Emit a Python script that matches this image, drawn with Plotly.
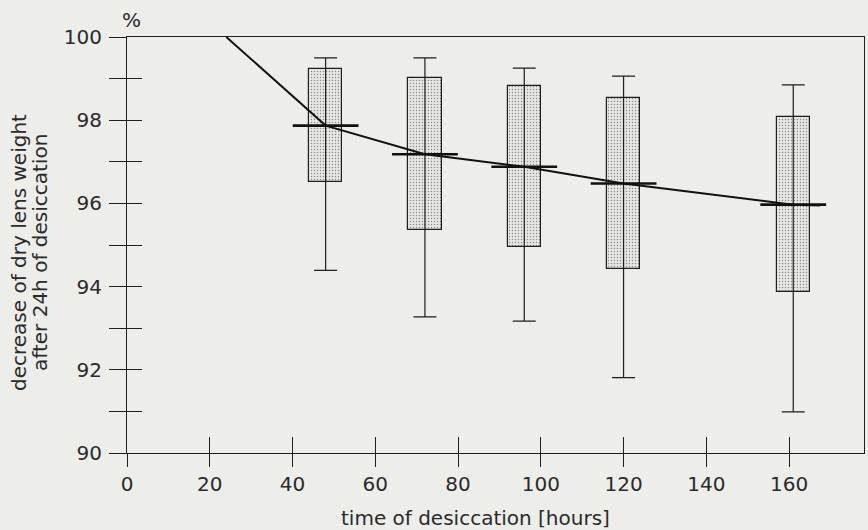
import plotly.graph_objects as go

# ---- data ----
times = [48, 72, 96, 120, 161]
whisker_max = [99.50, 99.50, 99.25, 99.06, 98.85]
q3 = [99.24, 99.01, 98.82, 98.53, 98.08]
median = [97.87, 97.18, 96.88, 96.48, 95.97]
q1 = [96.51, 95.37, 94.95, 94.42, 93.86]
whisker_min = [94.39, 93.27, 93.17, 91.81, 90.99]

curve_x = [24, 48, 72, 96, 120, 161, 167.5]
curve_y = [100.0, 97.87, 97.18, 96.88, 96.48, 95.97, 95.95]

x_ticks = [0, 20, 40, 60, 80, 100, 120, 140, 160]
y_ticks = [90, 91, 92, 93, 94, 95, 96, 97, 98, 99, 100]
y_ticktext = ["90", "", "92", "", "94", "", "96", "", "98", "", "100"]

x_title = "time of desiccation [hours]"
y_title_1 = "decrease of dry lens weight"
y_title_2 = "after 24h of desiccation"
unit_label = "%"

# ---- styling ----
BG = "#ededea"
INK = "#1e1e1e"
TXT = "#2a2a2a"
FONT = "DejaVu Sans"
W, H = 868, 530
ML, MR, MT, MB = 127, 4, 37, 77
PW, PH = W - ML - MR, H - MT - MB
XR = [0, 178.1]
YR = [90, 100]


def px_x(px):
    return (px - ML) / PW


def px_y(py):
    return 1 - (py - MT) / PH


fig = go.Figure()

# boxes (q1..q3) with stippled fill
fig.add_trace(go.Bar(
    x=times,
    y=[a - b for a, b in zip(q3, q1)],
    base=q1,
    width=8,
    marker=dict(
        color="#e6e6e2",
        line=dict(color=INK, width=1.2),
        pattern=dict(shape=".", fgcolor="#8a8a8a", bgcolor="#e6e6e2",
                     size=3, solidity=0.18, fillmode="replace"),
    ),
    showlegend=False,
    hoverinfo="skip",
))

# whiskers with caps
fig.add_trace(go.Scatter(
    x=times,
    y=median,
    mode="markers",
    marker=dict(size=1, color="rgba(0,0,0,0)"),
    error_y=dict(
        type="data",
        symmetric=False,
        array=[mx - m for mx, m in zip(whisker_max, median)],
        arrayminus=[m - mn for m, mn in zip(median, whisker_min)],
        width=11.5,
        thickness=1.2,
        color=INK,
    ),
    showlegend=False,
    hoverinfo="skip",
))

# fitted curve through the medians
fig.add_trace(go.Scatter(
    x=curve_x,
    y=curve_y,
    mode="lines",
    line=dict(color="#111", width=2),
    showlegend=False,
    hoverinfo="skip",
    cliponaxis=False,
))

# median bars
fig.add_trace(go.Scatter(
    x=times,
    y=median,
    mode="markers",
    marker=dict(symbol="line-ew", size=47, line=dict(color="#111", width=2.6)),
    showlegend=False,
    hoverinfo="skip",
))

axis_font = dict(family=FONT, size=20, color=TXT)

fig.update_layout(
    width=W, height=H,
    margin=dict(l=ML, r=MR, t=MT, b=MB, pad=0),
    paper_bgcolor=BG,
    plot_bgcolor=BG,
    bargap=0,
    xaxis=dict(
        range=XR, tickvals=x_ticks, ticktext=[str(v) for v in x_ticks],
        ticks="outside", ticklen=13, tickwidth=1.3, tickcolor=INK,
        showline=True, linecolor=INK, linewidth=1.2, mirror=True,
        showgrid=False, zeroline=False, tickfont=axis_font,
        ticklabelstandoff=0,
    ),
    xaxis2=dict(
        range=XR, tickvals=x_ticks, overlaying="x", anchor="y",
        ticks="inside", ticklen=16, tickwidth=1.3, tickcolor=INK,
        showticklabels=False, showline=False, showgrid=False, zeroline=False,
    ),
    yaxis=dict(
        range=YR, tickvals=y_ticks, ticktext=y_ticktext,
        ticks="outside", ticklen=17, tickwidth=1.3, tickcolor=INK,
        showline=True, linecolor=INK, linewidth=1.2, mirror=True,
        showgrid=False, zeroline=False, tickfont=axis_font,
        ticklabelstandoff=3,
    ),
    yaxis2=dict(
        range=YR, tickvals=y_ticks, overlaying="y", anchor="x",
        ticks="inside", ticklen=15, tickwidth=1.3, tickcolor=INK,
        showticklabels=False, showline=False, showgrid=False, zeroline=False,
    ),
)

# dummy trace to activate overlay axes
fig.add_trace(go.Scatter(x=[None], y=[None], xaxis="x2", yaxis="y2",
                         showlegend=False, hoverinfo="skip"))

title_font = dict(family=FONT, size=20, color=TXT)
fig.add_annotation(text=x_title, xref="paper", yref="paper",
                   x=px_x(475), y=px_y(518), xanchor="center", yanchor="middle",
                   showarrow=False, font=title_font)
fig.add_annotation(text=y_title_1, xref="paper", yref="paper",
                   x=px_x(19), y=px_y(253), xanchor="center", yanchor="middle",
                   textangle=-90, showarrow=False, font=title_font)
fig.add_annotation(text=y_title_2, xref="paper", yref="paper",
                   x=px_x(40), y=px_y(253), xanchor="center", yanchor="middle",
                   textangle=-90, showarrow=False, font=title_font)
fig.add_annotation(text=unit_label, xref="paper", yref="paper",
                   x=px_x(131), y=px_y(20), xanchor="center", yanchor="middle",
                   showarrow=False, font=title_font)

fig.write_html("out.html")
